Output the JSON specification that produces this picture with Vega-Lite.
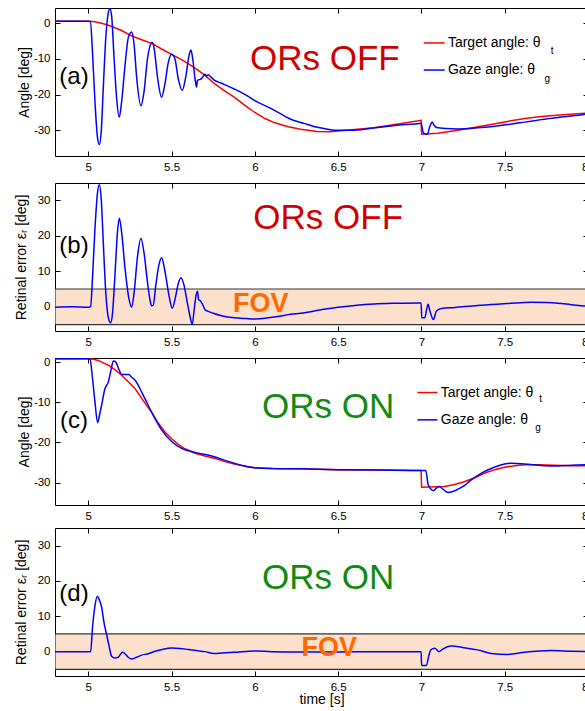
{
  "$schema": "https://vega.github.io/schema/vega-lite/v6.json",
  "padding": {"left": 13, "top": 7, "right": 0, "bottom": 0},
  "config": {
    "font": "Liberation Sans",
    "view": {"stroke": "#000", "strokeWidth": 1},
    "axis": {"grid": false, "domain": false, "tickSize": -5, "tickColor": "#000", "labelColor": "#000", "labelFontSize": 11.5, "titleFontSize": 14, "titleFontWeight": "normal", "titleColor": "#000", "labelPadding": 10, "labelFont": "Liberation Sans", "titleFont": "Liberation Sans"}
  },
  "datasets": {
    "aT": [
      {"t": 4.8, "v": 0.6}, {"t": 5.0, "v": 0.6}, {"t": 5.03, "v": 0.5}, {"t": 5.08, "v": 0}, {"t": 5.13, "v": -0.7}, {"t": 5.2, "v": -2}, {"t": 5.26, "v": -3.5}, {"t": 5.32, "v": -4.6}, {"t": 5.384, "v": -5.7}, {"t": 5.44, "v": -7.2}, {"t": 5.5, "v": -8.7}, {"t": 5.56, "v": -10.2}, {"t": 5.616, "v": -11.8}, {"t": 5.66, "v": -13.2}, {"t": 5.7, "v": -14.6}, {"t": 5.76, "v": -17}, {"t": 5.82, "v": -19}, {"t": 5.876, "v": -20.7}, {"t": 5.94, "v": -23}, {"t": 6.0, "v": -25}, {"t": 6.06, "v": -26.7}, {"t": 6.12, "v": -27.9}, {"t": 6.2, "v": -29}, {"t": 6.276, "v": -29.7}, {"t": 6.373, "v": -30.3}, {"t": 6.45, "v": -30.4}, {"t": 6.5, "v": -30.2}, {"t": 6.6, "v": -29.8}, {"t": 6.715, "v": -29.3}, {"t": 6.85, "v": -28.3}, {"t": 6.998, "v": -27.2}, {"t": 7.001, "v": -31.1}, {"t": 7.1, "v": -30.8}, {"t": 7.217, "v": -30}, {"t": 7.35, "v": -28.9}, {"t": 7.518, "v": -27.5}, {"t": 7.62, "v": -26.7}, {"t": 7.719, "v": -26.1}, {"t": 7.85, "v": -25.6}, {"t": 7.99, "v": -25.2}, {"t": 8.0, "v": -25.2}
    ],
    "aG": [
      {"t": 4.8, "v": 0.6}, {"t": 5.0, "v": 0.6}, {"t": 5.012, "v": 0.5}, {"t": 5.025, "v": -8}, {"t": 5.04, "v": -22}, {"t": 5.055, "v": -32}, {"t": 5.066, "v": -34}, {"t": 5.078, "v": -30}, {"t": 5.09, "v": -18}, {"t": 5.105, "v": -4}, {"t": 5.12, "v": 3}, {"t": 5.13, "v": 4.1}, {"t": 5.14, "v": 2}, {"t": 5.155, "v": -10}, {"t": 5.17, "v": -21}, {"t": 5.186, "v": -26.3}, {"t": 5.2, "v": -22}, {"t": 5.22, "v": -12}, {"t": 5.24, "v": -4}, {"t": 5.26, "v": -2.4}, {"t": 5.275, "v": -6}, {"t": 5.29, "v": -15}, {"t": 5.316, "v": -23.1}, {"t": 5.335, "v": -19}, {"t": 5.355, "v": -10}, {"t": 5.375, "v": -5.8}, {"t": 5.384, "v": -5.4}, {"t": 5.395, "v": -7}, {"t": 5.415, "v": -15}, {"t": 5.44, "v": -20.7}, {"t": 5.46, "v": -17}, {"t": 5.48, "v": -11}, {"t": 5.5, "v": -8.7}, {"t": 5.52, "v": -10}, {"t": 5.54, "v": -15.5}, {"t": 5.564, "v": -18.8}, {"t": 5.585, "v": -15}, {"t": 5.605, "v": -9}, {"t": 5.616, "v": -7.5}, {"t": 5.627, "v": -10}, {"t": 5.642, "v": -16}, {"t": 5.65, "v": -17.9}, {"t": 5.655, "v": -16}, {"t": 5.665, "v": -15.8}, {"t": 5.68, "v": -15.5}, {"t": 5.69, "v": -14.8}, {"t": 5.7, "v": -14.3}, {"t": 5.71, "v": -14.8}, {"t": 5.72, "v": -14.4}, {"t": 5.735, "v": -15}, {"t": 5.756, "v": -15.9}, {"t": 5.8, "v": -16.8}, {"t": 5.876, "v": -18.4}, {"t": 5.95, "v": -20.2}, {"t": 6.0, "v": -21.7}, {"t": 6.08, "v": -23.5}, {"t": 6.156, "v": -25.4}, {"t": 6.216, "v": -26.9}, {"t": 6.276, "v": -27.8}, {"t": 6.313, "v": -28.3}, {"t": 6.36, "v": -29.0}, {"t": 6.414, "v": -29.5}, {"t": 6.46, "v": -29.9}, {"t": 6.5, "v": -30.0}, {"t": 6.56, "v": -30.0}, {"t": 6.614, "v": -29.9}, {"t": 6.7, "v": -29.4}, {"t": 6.815, "v": -28.8}, {"t": 6.9, "v": -28.4}, {"t": 6.986, "v": -28.1}, {"t": 6.998, "v": -28.0}, {"t": 7.01, "v": -30.5}, {"t": 7.02, "v": -31.0}, {"t": 7.035, "v": -31.1}, {"t": 7.05, "v": -29}, {"t": 7.065, "v": -27.7}, {"t": 7.075, "v": -28.5}, {"t": 7.09, "v": -29.2}, {"t": 7.15, "v": -29.5}, {"t": 7.217, "v": -29.6}, {"t": 7.337, "v": -29.3}, {"t": 7.43, "v": -28.9}, {"t": 7.518, "v": -28.4}, {"t": 7.62, "v": -27.7}, {"t": 7.719, "v": -27.0}, {"t": 7.85, "v": -26.2}, {"t": 7.99, "v": -25.4}, {"t": 8.0, "v": -25.3}
    ],
    "bG": [
      {"t": 4.8, "v": -0.1}, {"t": 4.9, "v": 0}, {"t": 5.0, "v": -0.1}, {"t": 5.014, "v": 0}, {"t": 5.025, "v": 8}, {"t": 5.04, "v": 22}, {"t": 5.055, "v": 32}, {"t": 5.066, "v": 34.3}, {"t": 5.078, "v": 30}, {"t": 5.09, "v": 18}, {"t": 5.105, "v": 4}, {"t": 5.12, "v": -3}, {"t": 5.134, "v": -4.5}, {"t": 5.145, "v": -2}, {"t": 5.16, "v": 9}, {"t": 5.175, "v": 21}, {"t": 5.186, "v": 24.9}, {"t": 5.2, "v": 21}, {"t": 5.22, "v": 11}, {"t": 5.245, "v": 2}, {"t": 5.26, "v": -0.1}, {"t": 5.275, "v": 4}, {"t": 5.295, "v": 14}, {"t": 5.316, "v": 19.2}, {"t": 5.335, "v": 15}, {"t": 5.355, "v": 7}, {"t": 5.37, "v": 2}, {"t": 5.38, "v": 0.3}, {"t": 5.39, "v": 0.5}, {"t": 5.405, "v": 6}, {"t": 5.425, "v": 12}, {"t": 5.44, "v": 13.8}, {"t": 5.46, "v": 10}, {"t": 5.485, "v": 3}, {"t": 5.504, "v": -0.4}, {"t": 5.52, "v": 2}, {"t": 5.54, "v": 6.5}, {"t": 5.556, "v": 8.2}, {"t": 5.575, "v": 6}, {"t": 5.595, "v": 1}, {"t": 5.612, "v": -3}, {"t": 5.624, "v": -5}, {"t": 5.635, "v": -1}, {"t": 5.648, "v": 3.5}, {"t": 5.656, "v": 4.4}, {"t": 5.662, "v": 2}, {"t": 5.67, "v": 1.8}, {"t": 5.68, "v": 1.2}, {"t": 5.69, "v": 0.3}, {"t": 5.7, "v": -0.8}, {"t": 5.716, "v": -1.2}, {"t": 5.75, "v": -1.8}, {"t": 5.8, "v": -2.5}, {"t": 5.876, "v": -3.1}, {"t": 5.95, "v": -3.3}, {"t": 6.0, "v": -3.4}, {"t": 6.08, "v": -3.1}, {"t": 6.156, "v": -2.6}, {"t": 6.213, "v": -2.1}, {"t": 6.276, "v": -1.8}, {"t": 6.4, "v": -0.8}, {"t": 6.5, "v": -0.1}, {"t": 6.6, "v": 0.4}, {"t": 6.715, "v": 0.8}, {"t": 6.85, "v": 1.0}, {"t": 6.99, "v": 1.1}, {"t": 6.998, "v": 1.1}, {"t": 7.002, "v": -3.1}, {"t": 7.02, "v": -3.1}, {"t": 7.03, "v": -1}, {"t": 7.04, "v": 0.7}, {"t": 7.05, "v": -1}, {"t": 7.072, "v": -3.6}, {"t": 7.09, "v": -1.2}, {"t": 7.12, "v": -0.5}, {"t": 7.2, "v": -0.2}, {"t": 7.337, "v": 0.4}, {"t": 7.518, "v": 0.9}, {"t": 7.659, "v": 1.3}, {"t": 7.75, "v": 1.2}, {"t": 7.819, "v": 1.0}, {"t": 7.9, "v": 0.6}, {"t": 7.99, "v": 0.2}, {"t": 8.0, "v": 0.2}
    ],
    "cT": [
      {"t": 4.8, "v": 0.8}, {"t": 5.0, "v": 0.8}, {"t": 5.03, "v": 0.7}, {"t": 5.06, "v": 0.4}, {"t": 5.09, "v": -0.2}, {"t": 5.12, "v": -0.8}, {"t": 5.16, "v": -1.9}, {"t": 5.2, "v": -3.3}, {"t": 5.24, "v": -4.9}, {"t": 5.28, "v": -6.6}, {"t": 5.33, "v": -9.6}, {"t": 5.384, "v": -12.8}, {"t": 5.42, "v": -15.2}, {"t": 5.46, "v": -17.4}, {"t": 5.5, "v": -19.1}, {"t": 5.54, "v": -20.5}, {"t": 5.58, "v": -21.6}, {"t": 5.64, "v": -22.7}, {"t": 5.7, "v": -23.4}, {"t": 5.76, "v": -24.0}, {"t": 5.82, "v": -24.8}, {"t": 5.876, "v": -25.4}, {"t": 5.95, "v": -26.0}, {"t": 6.0, "v": -26.3}, {"t": 6.1, "v": -26.5}, {"t": 6.276, "v": -26.6}, {"t": 6.5, "v": -26.8}, {"t": 6.75, "v": -26.9}, {"t": 6.998, "v": -27.0}, {"t": 7.001, "v": -31.2}, {"t": 7.137, "v": -31.0}, {"t": 7.2, "v": -30.5}, {"t": 7.257, "v": -29.8}, {"t": 7.32, "v": -28.8}, {"t": 7.377, "v": -27.7}, {"t": 7.44, "v": -26.8}, {"t": 7.498, "v": -26.2}, {"t": 7.56, "v": -25.8}, {"t": 7.618, "v": -25.6}, {"t": 7.7, "v": -25.6}, {"t": 7.8, "v": -25.7}, {"t": 7.9, "v": -25.8}, {"t": 7.99, "v": -25.8}, {"t": 8.0, "v": -25.8}
    ],
    "cG": [
      {"t": 4.8, "v": 0.8}, {"t": 5.0, "v": 0.8}, {"t": 5.01, "v": 0.7}, {"t": 5.025, "v": -4}, {"t": 5.04, "v": -10}, {"t": 5.056, "v": -15.1}, {"t": 5.068, "v": -13}, {"t": 5.08, "v": -10.7}, {"t": 5.1, "v": -6.6}, {"t": 5.12, "v": -5}, {"t": 5.136, "v": -2.1}, {"t": 5.15, "v": 0.25}, {"t": 5.16, "v": 0.2}, {"t": 5.17, "v": -0.4}, {"t": 5.185, "v": -2}, {"t": 5.2, "v": -3.1}, {"t": 5.22, "v": -3.1}, {"t": 5.244, "v": -3.1}, {"t": 5.26, "v": -3.8}, {"t": 5.28, "v": -4.5}, {"t": 5.33, "v": -8.3}, {"t": 5.384, "v": -12.8}, {"t": 5.44, "v": -16.9}, {"t": 5.5, "v": -19.8}, {"t": 5.56, "v": -21.5}, {"t": 5.64, "v": -22.5}, {"t": 5.74, "v": -23.4}, {"t": 5.756, "v": -23.6}, {"t": 5.8, "v": -24.2}, {"t": 5.876, "v": -25.2}, {"t": 5.95, "v": -26}, {"t": 6.0, "v": -26.3}, {"t": 6.1, "v": -26.5}, {"t": 6.276, "v": -26.6}, {"t": 6.5, "v": -26.8}, {"t": 6.75, "v": -26.9}, {"t": 6.996, "v": -27.0}, {"t": 7.026, "v": -27.0}, {"t": 7.04, "v": -30.5}, {"t": 7.06, "v": -31.8}, {"t": 7.072, "v": -32.0}, {"t": 7.09, "v": -31.4}, {"t": 7.106, "v": -31}, {"t": 7.125, "v": -31.5}, {"t": 7.16, "v": -32.5}, {"t": 7.19, "v": -32.2}, {"t": 7.217, "v": -31.7}, {"t": 7.26, "v": -30.7}, {"t": 7.297, "v": -29.4}, {"t": 7.34, "v": -28.2}, {"t": 7.377, "v": -27.3}, {"t": 7.42, "v": -26.5}, {"t": 7.458, "v": -25.9}, {"t": 7.5, "v": -25.4}, {"t": 7.538, "v": -25.2}, {"t": 7.6, "v": -25.3}, {"t": 7.659, "v": -25.5}, {"t": 7.74, "v": -25.8}, {"t": 7.819, "v": -25.9}, {"t": 7.9, "v": -25.7}, {"t": 7.99, "v": -25.6}, {"t": 8.0, "v": -25.6}
    ],
    "dG": [
      {"t": 4.8, "v": 0}, {"t": 5.0, "v": 0}, {"t": 5.014, "v": 0}, {"t": 5.025, "v": 6.7}, {"t": 5.04, "v": 13}, {"t": 5.054, "v": 15.7}, {"t": 5.065, "v": 14.8}, {"t": 5.08, "v": 12.6}, {"t": 5.095, "v": 8}, {"t": 5.11, "v": 4.8}, {"t": 5.125, "v": 1.5}, {"t": 5.14, "v": -1.3}, {"t": 5.16, "v": -1.8}, {"t": 5.18, "v": -1.6}, {"t": 5.195, "v": -0.6}, {"t": 5.206, "v": -0.2}, {"t": 5.22, "v": -0.6}, {"t": 5.24, "v": -1.6}, {"t": 5.26, "v": -2.1}, {"t": 5.29, "v": -1.6}, {"t": 5.32, "v": -1}, {"t": 5.36, "v": -0.6}, {"t": 5.4, "v": 0.1}, {"t": 5.45, "v": 0.7}, {"t": 5.5, "v": 1.0}, {"t": 5.55, "v": 0.9}, {"t": 5.6, "v": 0.6}, {"t": 5.65, "v": 0.3}, {"t": 5.7, "v": 0}, {"t": 5.756, "v": -0.5}, {"t": 5.8, "v": -0.4}, {"t": 5.876, "v": -0.2}, {"t": 6.0, "v": 0.2}, {"t": 6.1, "v": 0.0}, {"t": 6.276, "v": -0.1}, {"t": 6.5, "v": -0.1}, {"t": 6.75, "v": 0}, {"t": 6.998, "v": 0}, {"t": 7.001, "v": -3.9}, {"t": 7.03, "v": -3.9}, {"t": 7.045, "v": -1}, {"t": 7.056, "v": 0.5}, {"t": 7.08, "v": 0.95}, {"t": 7.106, "v": 0}, {"t": 7.13, "v": 0.8}, {"t": 7.177, "v": 1.6}, {"t": 7.257, "v": 1.1}, {"t": 7.337, "v": 0.5}, {"t": 7.418, "v": -0.5}, {"t": 7.518, "v": -0.8}, {"t": 7.618, "v": -0.2}, {"t": 7.779, "v": 0.3}, {"t": 7.9, "v": 0.1}, {"t": 8.0, "v": 0}
    ]
  },
  "spacing": 7,
  "vconcat": [
    {
      "bounds": "flush",
      "spacing": 27,
      "vconcat": [
        {
          "width": 533, "height": 148,
          "resolve": {"axis": {"x": "independent", "y": "independent"}},
          "layer": [
            {"data": {"name": "aT"}, "mark": {"type": "line", "color": "#ff0000", "strokeWidth": 1.5, "clip": true},
             "encoding": {
               "x": {"field": "t", "type": "quantitative", "scale": {"domain": [4.8, 8], "nice": false, "zero": false}, "axis": {"orient": "top", "labels": false, "title": null, "values": [5, 5.5, 6, 6.5, 7, 7.5, 8]}},
               "y": {"field": "v", "type": "quantitative", "scale": {"domain": [-37.2, 4.3], "nice": false, "zero": false}, "axis": {"orient": "right", "labels": false, "title": null, "values": [-30, -20, -10, 0]}}}},
            {"data": {"name": "aG"}, "mark": {"type": "line", "color": "#0000ff", "strokeWidth": 1.5, "clip": true, "interpolate": "monotone"},
             "encoding": {
               "x": {"field": "t", "type": "quantitative", "axis": {"values": [5, 5.5, 6, 6.5, 7, 7.5, 8], "format": ".1~f", "title": null}},
               "y": {"field": "v", "type": "quantitative", "axis": {"values": [-30, -20, -10, 0], "labelExpr": "'' + datum.value", "title": "Angle [deg]", "titleX": -31, "titleBaseline": "middle"}}}},
            {"data": {"values": [{}]}, "mark": {"type": "text", "text": "(a)", "fontSize": 24, "align": "center", "baseline": "middle"},
             "encoding": {"x": {"datum": 4.914, "type": "quantitative", "axis": null}, "y": {"datum": -15, "type": "quantitative", "axis": null}}},
            {"data": {"values": [{}]}, "mark": {"type": "text", "text": "ORs OFF", "fontSize": 35, "color": "#d00000", "align": "center", "baseline": "middle"},
             "encoding": {"x": {"datum": 6.42, "type": "quantitative", "axis": null}, "y": {"datum": -9.9, "type": "quantitative", "axis": null}}},
            {"data": {"values": [{}]}, "mark": {"type": "rule", "color": "#ff0000", "strokeWidth": 1.5},
             "encoding": {"x": {"datum": 7.014, "type": "quantitative", "axis": null}, "x2": {"datum": 7.14}, "y": {"datum": -5.5, "type": "quantitative", "axis": null}}},
            {"data": {"values": [{}]}, "mark": {"type": "rule", "color": "#0000ff", "strokeWidth": 1.5},
             "encoding": {"x": {"datum": 7.014, "type": "quantitative", "axis": null}, "x2": {"datum": 7.14}, "y": {"datum": -13.1, "type": "quantitative", "axis": null}}},
            {"data": {"values": [{}]}, "mark": {"type": "text", "text": "Target angle: θ", "fontSize": 14, "align": "left", "baseline": "middle"},
             "encoding": {"x": {"datum": 7.159, "type": "quantitative", "axis": null}, "y": {"datum": -5.5, "type": "quantitative", "axis": null}}},
            {"data": {"values": [{}]}, "mark": {"type": "text", "text": "t", "fontSize": 10, "align": "center", "baseline": "middle"},
             "encoding": {"x": {"datum": 7.785, "type": "quantitative", "axis": null}, "y": {"datum": -7.7, "type": "quantitative", "axis": null}}},
            {"data": {"values": [{}]}, "mark": {"type": "text", "text": "Gaze angle: θ", "fontSize": 14, "align": "left", "baseline": "middle"},
             "encoding": {"x": {"datum": 7.159, "type": "quantitative", "axis": null}, "y": {"datum": -13.1, "type": "quantitative", "axis": null}}},
            {"data": {"values": [{}]}, "mark": {"type": "text", "text": "g", "fontSize": 10, "align": "center", "baseline": "middle"},
             "encoding": {"x": {"datum": 7.755, "type": "quantitative", "axis": null}, "y": {"datum": -15.5, "type": "quantitative", "axis": null}}}
          ]
        },
        {
          "width": 533, "height": 148,
          "resolve": {"axis": {"x": "independent", "y": "independent"}},
          "layer": [
            {"data": {"values": [{}]}, "mark": {"type": "rect", "fill": "#fde0cb", "stroke": "#333333", "strokeWidth": 1.2, "clip": true},
             "encoding": {
               "x": {"datum": 4.8, "type": "quantitative", "scale": {"domain": [4.8, 8], "nice": false, "zero": false}, "axis": {"orient": "top", "labels": false, "title": null, "values": [5, 5.5, 6, 6.5, 7, 7.5, 8]}},
               "x2": {"datum": 8},
               "y": {"datum": -5, "type": "quantitative", "scale": {"domain": [-6.8, 34.8], "nice": false, "zero": false}, "axis": {"orient": "right", "labels": false, "title": null, "values": [0, 10, 20, 30]}},
               "y2": {"datum": 5}}},
            {"data": {"name": "bG"}, "mark": {"type": "line", "color": "#0000ff", "strokeWidth": 1.5, "clip": true, "interpolate": "monotone"},
             "encoding": {
               "x": {"field": "t", "type": "quantitative", "axis": {"values": [5, 5.5, 6, 6.5, 7, 7.5, 8], "format": ".1~f", "title": null}},
               "y": {"field": "v", "type": "quantitative", "axis": {"values": [0, 10, 20, 30], "labelExpr": "'' + datum.value", "title": "Retinal error εᵣ [deg]", "titleX": -34, "titleBaseline": "middle"}}}},
            {"data": {"values": [{}]}, "mark": {"type": "text", "text": "(b)", "fontSize": 24, "align": "center", "baseline": "middle"},
             "encoding": {"x": {"datum": 4.914, "type": "quantitative", "axis": null}, "y": {"datum": 17.1, "type": "quantitative", "axis": null}}},
            {"data": {"values": [{}]}, "mark": {"type": "text", "text": "ORs OFF", "fontSize": 35, "color": "#d00000", "align": "center", "baseline": "middle"},
             "encoding": {"x": {"datum": 6.44, "type": "quantitative", "axis": null}, "y": {"datum": 25, "type": "quantitative", "axis": null}}},
            {"data": {"values": [{}]}, "mark": {"type": "text", "text": "FOV", "fontSize": 27, "fontWeight": "bold", "color": "#ff6a00", "align": "center", "baseline": "middle"},
             "encoding": {"x": {"datum": 6.035, "type": "quantitative", "axis": null}, "y": {"datum": 0.9, "type": "quantitative", "axis": null}}}
          ]
        }
      ]
    },
    {
      "bounds": "flush",
      "spacing": 23,
      "vconcat": [
        {
          "width": 533, "height": 147,
          "resolve": {"axis": {"x": "independent", "y": "independent"}},
          "layer": [
            {"data": {"name": "cT"}, "mark": {"type": "line", "color": "#ff0000", "strokeWidth": 1.5, "clip": true},
             "encoding": {
               "x": {"field": "t", "type": "quantitative", "scale": {"domain": [4.8, 8], "nice": false, "zero": false}, "axis": {"orient": "top", "labels": false, "title": null, "values": [5, 5.5, 6, 6.5, 7, 7.5, 8]}},
               "y": {"field": "v", "type": "quantitative", "scale": {"domain": [-35.6, 1], "nice": false, "zero": false}, "axis": {"orient": "right", "labels": false, "title": null, "values": [-30, -20, -10, 0]}}}},
            {"data": {"name": "cG"}, "mark": {"type": "line", "color": "#0000ff", "strokeWidth": 1.5, "clip": true, "interpolate": "monotone"},
             "encoding": {
               "x": {"field": "t", "type": "quantitative", "axis": {"values": [5, 5.5, 6, 6.5, 7, 7.5, 8], "format": ".1~f", "title": null}},
               "y": {"field": "v", "type": "quantitative", "axis": {"values": [-30, -20, -10, 0], "labelExpr": "'' + datum.value", "title": "Angle [deg]", "titleX": -31, "titleBaseline": "middle"}}}},
            {"data": {"values": [{}]}, "mark": {"type": "text", "text": "(c)", "fontSize": 24, "align": "center", "baseline": "middle"},
             "encoding": {"x": {"datum": 4.914, "type": "quantitative", "axis": null}, "y": {"datum": -14.6, "type": "quantitative", "axis": null}}},
            {"data": {"values": [{}]}, "mark": {"type": "text", "text": "ORs ON", "fontSize": 35, "color": "#108a10", "align": "center", "baseline": "middle"},
             "encoding": {"x": {"datum": 6.44, "type": "quantitative", "axis": null}, "y": {"datum": -11.3, "type": "quantitative", "axis": null}}},
            {"data": {"values": [{}]}, "mark": {"type": "rule", "color": "#ff0000", "strokeWidth": 1.5},
             "encoding": {"x": {"datum": 6.976, "type": "quantitative", "axis": null}, "x2": {"datum": 7.096}, "y": {"datum": -7.6, "type": "quantitative", "axis": null}}},
            {"data": {"values": [{}]}, "mark": {"type": "rule", "color": "#0000ff", "strokeWidth": 1.5},
             "encoding": {"x": {"datum": 6.976, "type": "quantitative", "axis": null}, "x2": {"datum": 7.096}, "y": {"datum": -14.4, "type": "quantitative", "axis": null}}},
            {"data": {"values": [{}]}, "mark": {"type": "text", "text": "Target angle: θ", "fontSize": 14, "align": "left", "baseline": "middle"},
             "encoding": {"x": {"datum": 7.116, "type": "quantitative", "axis": null}, "y": {"datum": -7.6, "type": "quantitative", "axis": null}}},
            {"data": {"values": [{}]}, "mark": {"type": "text", "text": "t", "fontSize": 10, "align": "center", "baseline": "middle"},
             "encoding": {"x": {"datum": 7.715, "type": "quantitative", "axis": null}, "y": {"datum": -9.3, "type": "quantitative", "axis": null}}},
            {"data": {"values": [{}]}, "mark": {"type": "text", "text": "Gaze angle: θ", "fontSize": 14, "align": "left", "baseline": "middle"},
             "encoding": {"x": {"datum": 7.116, "type": "quantitative", "axis": null}, "y": {"datum": -14.4, "type": "quantitative", "axis": null}}},
            {"data": {"values": [{}]}, "mark": {"type": "text", "text": "g", "fontSize": 10, "align": "center", "baseline": "middle"},
             "encoding": {"x": {"datum": 7.70, "type": "quantitative", "axis": null}, "y": {"datum": -16.4, "type": "quantitative", "axis": null}}}
          ]
        },
        {
          "width": 533, "height": 148,
          "resolve": {"axis": {"x": "independent", "y": "independent"}},
          "layer": [
            {"data": {"values": [{}]}, "mark": {"type": "rect", "fill": "#fde0cb", "stroke": "#333333", "strokeWidth": 1.2, "clip": true},
             "encoding": {
               "x": {"datum": 4.8, "type": "quantitative", "scale": {"domain": [4.8, 8], "nice": false, "zero": false}, "axis": {"orient": "top", "labels": false, "title": null, "values": [5, 5.5, 6, 6.5, 7, 7.5, 8]}},
               "x2": {"datum": 8},
               "y": {"datum": -5, "type": "quantitative", "scale": {"domain": [-6.9, 35], "nice": false, "zero": false}, "axis": {"orient": "right", "labels": false, "title": null, "values": [0, 10, 20, 30]}},
               "y2": {"datum": 5}}},
            {"data": {"name": "dG"}, "mark": {"type": "line", "color": "#0000ff", "strokeWidth": 1.5, "clip": true, "interpolate": "monotone"},
             "encoding": {
               "x": {"field": "t", "type": "quantitative", "axis": {"values": [5, 5.5, 6, 6.5, 7, 7.5, 8], "format": ".1~f", "title": "time [s]", "titlePadding": 0}},
               "y": {"field": "v", "type": "quantitative", "axis": {"values": [0, 10, 20, 30], "labelExpr": "'' + datum.value", "title": "Retinal error εᵣ [deg]", "titleX": -34, "titleBaseline": "middle"}}}},
            {"data": {"values": [{}]}, "mark": {"type": "text", "text": "(d)", "fontSize": 24, "align": "center", "baseline": "middle"},
             "encoding": {"x": {"datum": 4.914, "type": "quantitative", "axis": null}, "y": {"datum": 16.4, "type": "quantitative", "axis": null}}},
            {"data": {"values": [{}]}, "mark": {"type": "text", "text": "ORs ON", "fontSize": 35, "color": "#108a10", "align": "center", "baseline": "middle"},
             "encoding": {"x": {"datum": 6.44, "type": "quantitative", "axis": null}, "y": {"datum": 20.8, "type": "quantitative", "axis": null}}},
            {"data": {"values": [{}]}, "mark": {"type": "text", "text": "FOV", "fontSize": 27, "fontWeight": "bold", "color": "#ff6a00", "align": "center", "baseline": "middle"},
             "encoding": {"x": {"datum": 6.447, "type": "quantitative", "axis": null}, "y": {"datum": 1.05, "type": "quantitative", "axis": null}}}
          ]
        }
      ]
    }
  ]
}
